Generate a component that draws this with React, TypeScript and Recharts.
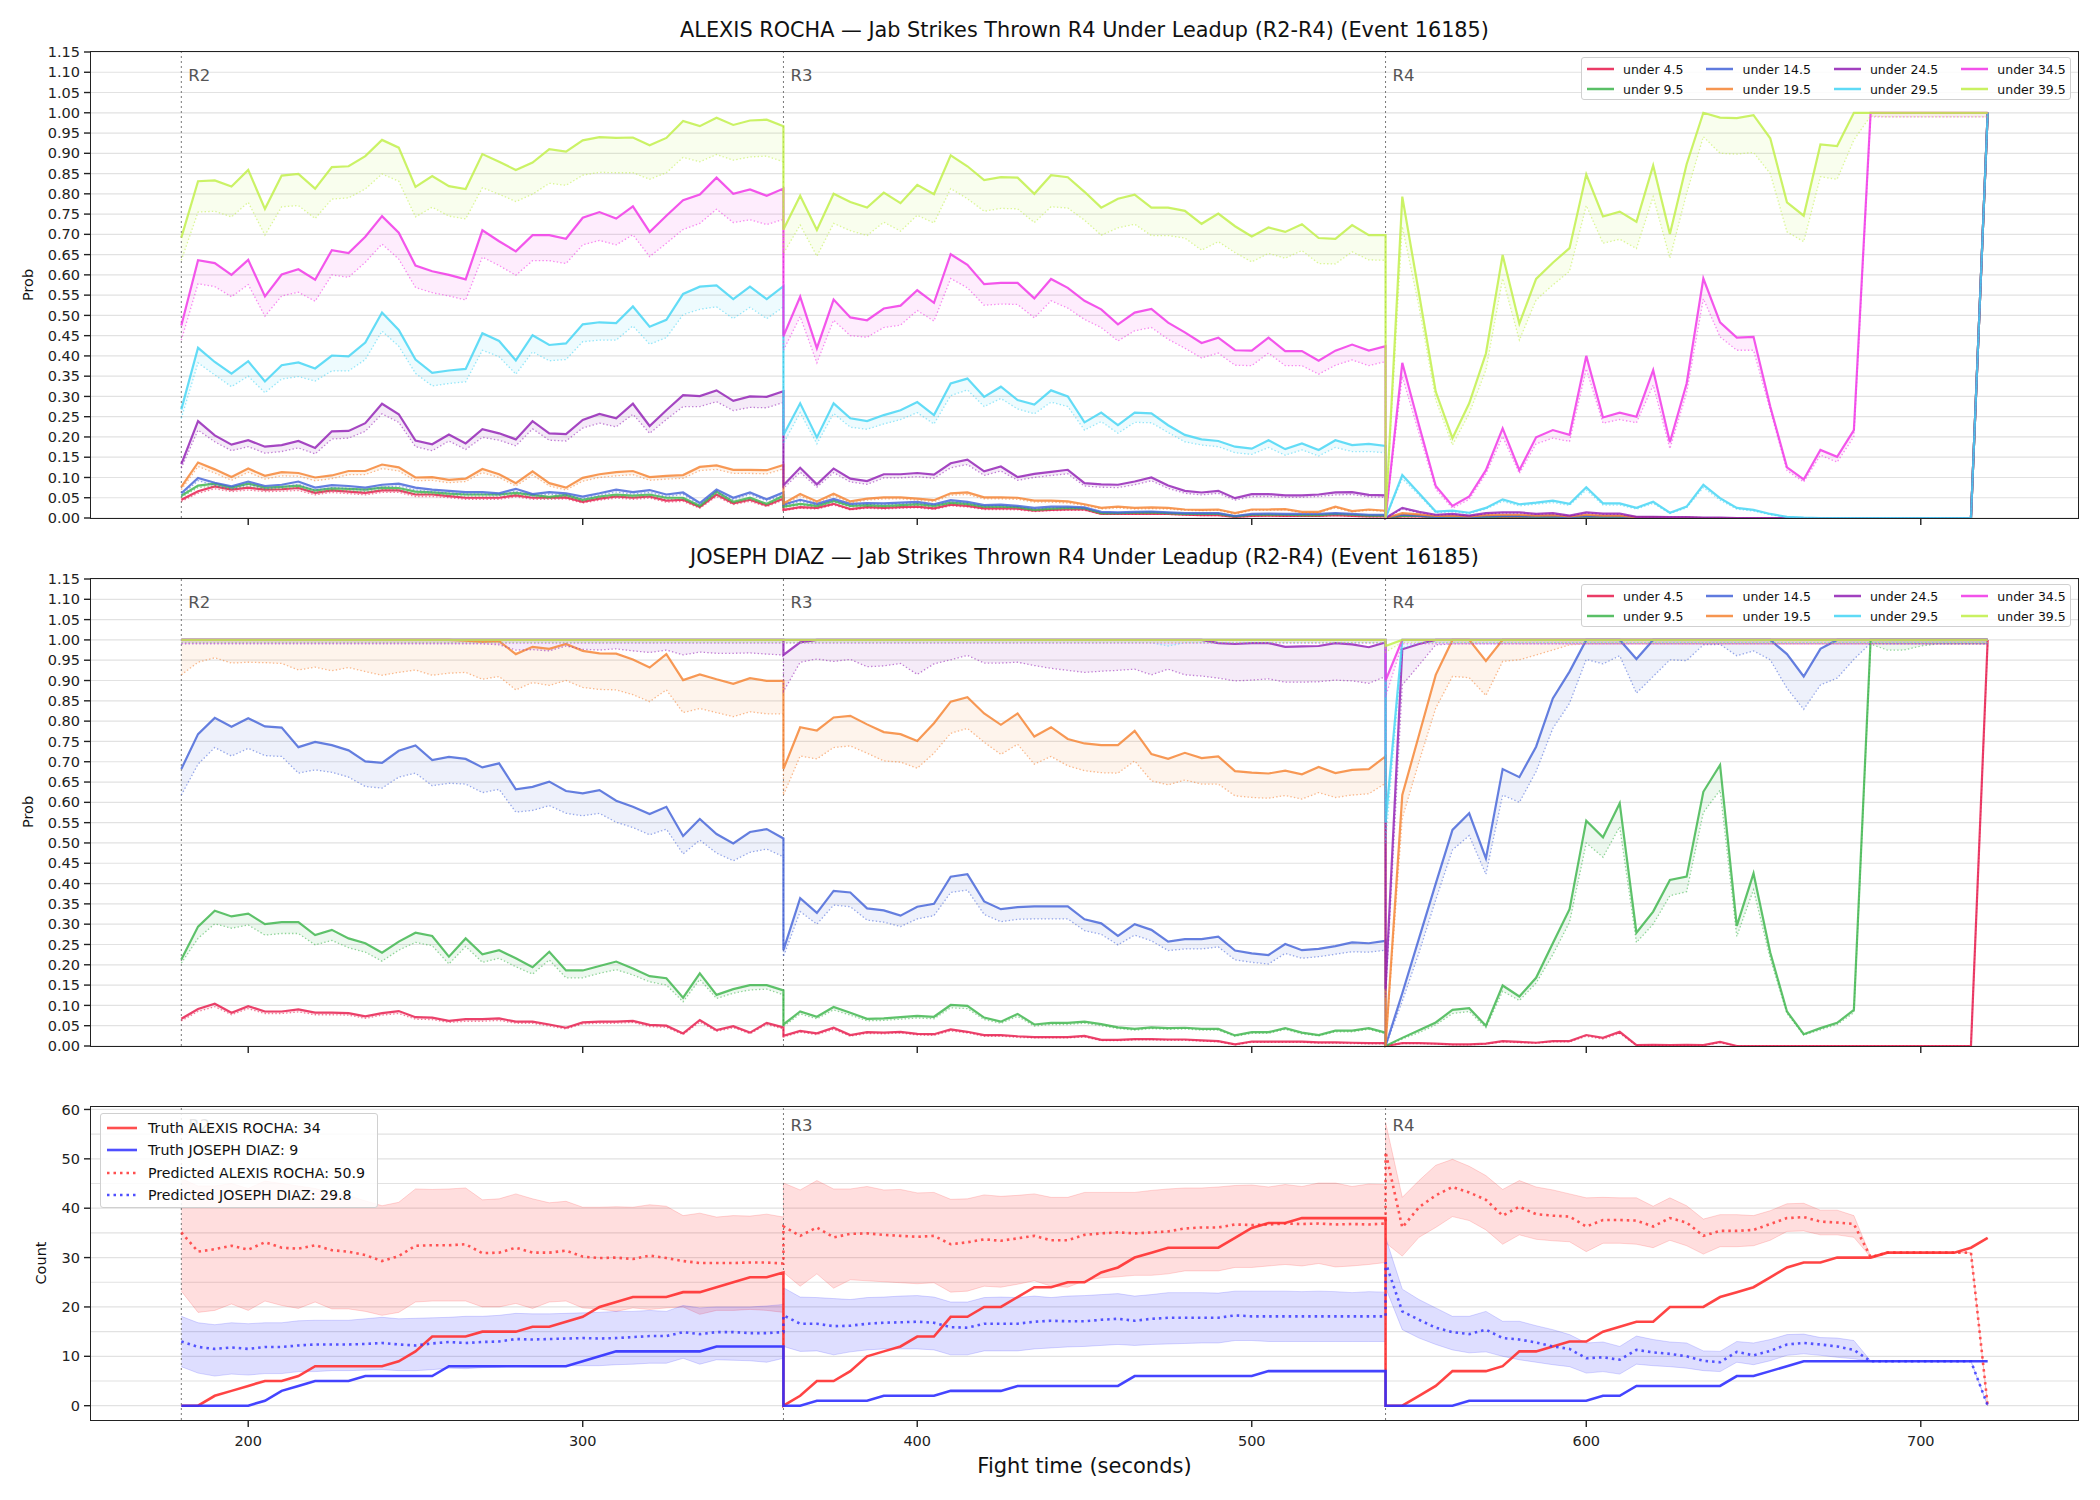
import React from 'react';
import { ComposedChart, Line, Area, XAxis, YAxis, CartesianGrid, ReferenceLine } from 'recharts';

const FONT = '"DejaVu Sans", Verdana, sans-serif';

// sampling: every 5 s inside a round, round start repeated so resets draw as vertical drops
const ROUND_STARTS = [180, 360, 540];
const ROUND_NAMES = ['R2', 'R3', 'R4'];
const STEP = 5;
const STEPS_PER_ROUND = 36;

const X_TICKS = [200, 300, 400, 500, 600, 700];
const PROB_TICKS = [0, 0.05, 0.1, 0.15, 0.2, 0.25, 0.3, 0.35, 0.4, 0.45, 0.5, 0.55, 0.6, 0.65, 0.7, 0.75, 0.8, 0.85, 0.9, 0.95, 1.0, 1.05, 1.1, 1.15];
const COUNT_TICKS = [0, 10, 20, 30, 40, 50, 60];
const COUNT_GRID = [0, 5, 10, 15, 20, 25, 30, 35, 40, 45, 50, 55, 60];

const THRESHOLDS = ['under 4.5', 'under 9.5', 'under 14.5', 'under 19.5', 'under 24.5', 'under 29.5', 'under 34.5', 'under 39.5'];
const COLORS = ['#e6194b', '#3cb44b', '#4363d8', '#f58231', '#911eb4', '#42d4f4', '#f032e6', '#bfef45'];

// ---------- ALEXIS ROCHA: P(final jabs under line), solid = model, dotted = lower band ----------
const rocha45 = [
  0.045,0.066,0.078,0.070,0.075,0.070,0.071,0.074,0.062,0.068,0.065,0.062,0.068,0.068,0.058,0.058,0.054,0.050,0.050,0.050,0.056,0.050,0.050,0.051,0.040,0.048,0.053,0.050,0.053,0.043,0.045,0.027,0.058,0.036,0.045,0.031,0.048,
  0.020,0.027,0.025,0.035,0.022,0.027,0.025,0.027,0.028,0.024,0.033,0.030,0.024,0.024,0.023,0.018,0.020,0.021,0.021,0.010,0.010,0.010,0.011,0.010,0.008,0.007,0.007,0.003,0.005,0.006,0.005,0.005,0.005,0.007,0.005,0.004,0.004,
  0,0.004,0.004,0.002,0.002,0.001,0.002,0.003,0.003,0.002,0.002,0.001,0.003,0.002,0.002,0.001,0.001,0,0,0,0,0,0,0,0,0,0,0,0,0,0,0,0,0,0,0,1.0,
];
const rocha45Lo = [
  0.041,0.061,0.072,0.065,0.069,0.065,0.066,0.068,0.057,0.063,0.060,0.057,0.063,0.063,0.053,0.053,0.050,0.046,0.046,0.046,0.052,0.046,0.046,0.047,0.037,0.044,0.049,0.046,0.049,0.039,0.041,0.024,0.053,0.033,0.041,0.028,0.044,
  0.018,0.024,0.022,0.032,0.020,0.024,0.022,0.024,0.025,0.021,0.030,0.027,0.021,0.021,0.020,0.016,0.018,0.019,0.019,0.009,0.009,0.009,0.010,0.009,0.007,0.006,0.006,0.002,0.004,0.005,0.004,0.004,0.004,0.006,0.004,0.003,0.003,
  0,0.003,0.003,0.001,0.001,0.001,0.001,0.002,0.002,0.001,0.001,0.001,0.002,0.001,0.001,0,0,0,0,0,0,0,0,0,0,0,0,0,0,0,0,0,0,0,0,0,0.99,
];
const rocha95 = [
  0.055,0.080,0.085,0.075,0.085,0.075,0.077,0.080,0.068,0.073,0.072,0.070,0.075,0.074,0.065,0.063,0.060,0.058,0.058,0.058,0.062,0.057,0.052,0.057,0.045,0.053,0.058,0.055,0.058,0.050,0.050,0.030,0.065,0.040,0.050,0.035,0.055,
  0.028,0.035,0.030,0.042,0.030,0.032,0.030,0.032,0.034,0.030,0.038,0.035,0.028,0.028,0.027,0.020,0.023,0.025,0.024,0.012,0.012,0.013,0.014,0.012,0.010,0.010,0.010,0.004,0.008,0.008,0.008,0.007,0.007,0.010,0.008,0.006,0.006,
  0,0.006,0.005,0.002,0.003,0.002,0.003,0.004,0.004,0.003,0.003,0.002,0.004,0.003,0.003,0.001,0.001,0,0,0,0,0,0,0,0,0,0,0,0,0,0,0,0,0,0,0,1.0,
];
const rocha95Lo = [
  0.051,0.075,0.079,0.070,0.079,0.070,0.072,0.075,0.063,0.068,0.067,0.065,0.070,0.069,0.060,0.059,0.056,0.054,0.054,0.054,0.058,0.053,0.048,0.053,0.042,0.049,0.054,0.051,0.054,0.046,0.046,0.027,0.060,0.037,0.046,0.032,0.051,
  0.026,0.032,0.027,0.039,0.027,0.029,0.027,0.029,0.031,0.027,0.035,0.032,0.026,0.026,0.025,0.018,0.021,0.023,0.022,0.011,0.011,0.012,0.013,0.011,0.009,0.009,0.009,0.003,0.007,0.007,0.007,0.006,0.006,0.009,0.007,0.005,0.005,
  0,0.005,0.004,0.002,0.002,0.001,0.002,0.003,0.003,0.002,0.002,0.001,0.003,0.002,0.002,0.001,0.001,0,0,0,0,0,0,0,0,0,0,0,0,0,0,0,0,0,0,0,0.99,
];
const rocha145 = [
  0.061,0.099,0.087,0.078,0.090,0.079,0.082,0.090,0.075,0.081,0.079,0.075,0.082,0.085,0.075,0.070,0.067,0.064,0.064,0.061,0.072,0.059,0.064,0.061,0.053,0.061,0.070,0.064,0.069,0.058,0.063,0.037,0.070,0.050,0.063,0.046,0.063,
  0.033,0.045,0.035,0.047,0.035,0.037,0.036,0.038,0.040,0.034,0.044,0.040,0.032,0.033,0.030,0.025,0.028,0.028,0.026,0.015,0.014,0.015,0.016,0.014,0.012,0.012,0.012,0.005,0.010,0.011,0.010,0.010,0.010,0.012,0.010,0.008,0.008,
  0,0.008,0.006,0.003,0.004,0.002,0.004,0.005,0.005,0.004,0.004,0.002,0.005,0.004,0.004,0.001,0.001,0,0,0,0,0,0,0,0,0,0,0,0,0,0,0,0,0,0,0,1.0,
];
const rocha145Lo = [
  0.056,0.092,0.081,0.072,0.083,0.073,0.076,0.083,0.069,0.075,0.073,0.069,0.076,0.079,0.069,0.065,0.062,0.059,0.059,0.056,0.066,0.054,0.059,0.056,0.048,0.056,0.064,0.059,0.063,0.053,0.058,0.033,0.064,0.045,0.058,0.042,0.058,
  0.030,0.041,0.032,0.043,0.032,0.034,0.033,0.035,0.036,0.031,0.040,0.036,0.029,0.030,0.027,0.022,0.025,0.025,0.023,0.013,0.012,0.013,0.014,0.012,0.010,0.010,0.010,0.004,0.008,0.009,0.008,0.008,0.008,0.010,0.008,0.006,0.006,
  0,0.007,0.005,0.002,0.003,0.002,0.003,0.004,0.004,0.003,0.003,0.002,0.004,0.003,0.003,0.001,0.001,0,0,0,0,0,0,0,0,0,0,0,0,0,0,0,0,0,0,0,0.99,
];
const rocha195 = [
  0.077,0.137,0.120,0.101,0.122,0.104,0.113,0.111,0.100,0.105,0.116,0.116,0.132,0.125,0.100,0.101,0.094,0.097,0.121,0.108,0.086,0.115,0.086,0.075,0.099,0.108,0.113,0.116,0.101,0.104,0.106,0.126,0.130,0.119,0.119,0.118,0.131,
  0.036,0.059,0.041,0.060,0.041,0.048,0.051,0.051,0.048,0.044,0.061,0.063,0.051,0.051,0.050,0.043,0.043,0.041,0.034,0.025,0.028,0.025,0.026,0.025,0.021,0.020,0.021,0.012,0.021,0.021,0.022,0.015,0.015,0.028,0.017,0.021,0.018,
  0,0.012,0.009,0.005,0.006,0.004,0.007,0.008,0.008,0.006,0.007,0.004,0.008,0.006,0.006,0.002,0.002,0.001,0.001,0,0,0,0,0,0,0,0,0,0,0,0,0,0,0,0,0,1.0,
];
const rocha195Lo = [
  0.070,0.127,0.111,0.093,0.113,0.096,0.104,0.103,0.092,0.097,0.107,0.107,0.122,0.116,0.092,0.093,0.087,0.090,0.112,0.100,0.079,0.106,0.079,0.069,0.091,0.100,0.104,0.107,0.093,0.096,0.098,0.117,0.120,0.110,0.110,0.109,0.121,
  0.032,0.054,0.037,0.055,0.037,0.044,0.047,0.047,0.044,0.040,0.056,0.058,0.047,0.047,0.046,0.039,0.039,0.037,0.031,0.022,0.025,0.022,0.023,0.022,0.019,0.018,0.019,0.010,0.019,0.019,0.020,0.013,0.013,0.025,0.015,0.019,0.016,
  0,0.010,0.008,0.004,0.005,0.003,0.006,0.007,0.007,0.005,0.006,0.003,0.007,0.005,0.005,0.001,0.001,0.001,0.001,0,0,0,0,0,0,0,0,0,0,0,0,0,0,0,0,0,0.99,
];
const rocha245 = [
  0.133,0.239,0.204,0.181,0.192,0.176,0.180,0.190,0.173,0.214,0.215,0.234,0.282,0.256,0.191,0.182,0.206,0.184,0.219,0.209,0.194,0.239,0.209,0.207,0.242,0.257,0.246,0.282,0.227,0.266,0.303,0.301,0.315,0.289,0.300,0.299,0.313,
  0.081,0.124,0.083,0.122,0.097,0.091,0.108,0.108,0.111,0.107,0.135,0.144,0.115,0.127,0.101,0.109,0.114,0.119,0.086,0.083,0.082,0.090,0.100,0.080,0.067,0.063,0.067,0.049,0.059,0.059,0.056,0.056,0.058,0.063,0.064,0.057,0.056,
  0,0.025,0.015,0.008,0.010,0.006,0.012,0.014,0.014,0.010,0.012,0.006,0.014,0.011,0.011,0.003,0.003,0.002,0.002,0.001,0.001,0,0,0,0,0,0,0,0,0,0,0,0,0,0,0,1.0,
];
const rocha245Lo = [
  0.123,0.217,0.188,0.166,0.176,0.160,0.164,0.173,0.158,0.195,0.197,0.214,0.257,0.236,0.176,0.166,0.190,0.169,0.199,0.192,0.178,0.220,0.192,0.190,0.222,0.234,0.225,0.256,0.209,0.243,0.275,0.275,0.287,0.265,0.273,0.272,0.285,
  0.073,0.113,0.076,0.112,0.089,0.083,0.099,0.099,0.102,0.098,0.124,0.132,0.105,0.116,0.093,0.100,0.105,0.109,0.079,0.076,0.075,0.082,0.092,0.073,0.061,0.057,0.061,0.044,0.053,0.053,0.051,0.051,0.053,0.057,0.058,0.052,0.051,
  0,0.022,0.013,0.007,0.009,0.005,0.010,0.012,0.012,0.009,0.010,0.005,0.012,0.009,0.009,0.002,0.002,0.002,0.002,0.001,0.001,0,0,0,0,0,0,0,0,0,0,0,0,0,0,0,0.99,
];
const rocha295 = [
  0.268,0.420,0.385,0.356,0.387,0.337,0.377,0.384,0.369,0.401,0.399,0.433,0.507,0.464,0.391,0.358,0.364,0.368,0.456,0.437,0.389,0.451,0.427,0.431,0.478,0.483,0.481,0.522,0.472,0.489,0.553,0.571,0.574,0.540,0.571,0.540,0.572,
  0.205,0.283,0.199,0.283,0.246,0.239,0.254,0.266,0.286,0.254,0.332,0.344,0.299,0.324,0.291,0.280,0.315,0.300,0.236,0.260,0.229,0.260,0.258,0.229,0.205,0.194,0.190,0.176,0.171,0.192,0.170,0.184,0.168,0.192,0.180,0.183,0.178,
  0,0.106,0.061,0.016,0.018,0.013,0.025,0.046,0.034,0.038,0.043,0.035,0.076,0.036,0.036,0.025,0.040,0.013,0.028,0.082,0.049,0.025,0.020,0.010,0.003,0.001,0,0,0,0,0,0,0,0,0,0,1.0,
];
const rocha295Lo = [
  0.246,0.383,0.353,0.324,0.350,0.309,0.343,0.349,0.338,0.363,0.363,0.391,0.461,0.424,0.357,0.326,0.332,0.336,0.414,0.398,0.355,0.410,0.388,0.391,0.435,0.439,0.439,0.474,0.429,0.445,0.502,0.515,0.521,0.492,0.520,0.492,0.521,
  0.184,0.260,0.183,0.258,0.224,0.219,0.232,0.243,0.260,0.232,0.302,0.316,0.275,0.295,0.269,0.257,0.286,0.275,0.217,0.238,0.209,0.236,0.235,0.211,0.188,0.180,0.176,0.161,0.157,0.174,0.155,0.168,0.153,0.174,0.164,0.164,0.161,
  0,0.097,0.056,0.013,0.015,0.011,0.022,0.041,0.030,0.034,0.038,0.031,0.069,0.032,0.032,0.022,0.036,0.011,0.025,0.075,0.044,0.022,0.017,0.008,0.002,0.001,0,0,0,0,0,0,0,0,0,0,0.99,
];
const rocha345 = [
  0.475,0.636,0.629,0.600,0.637,0.547,0.601,0.614,0.588,0.661,0.654,0.694,0.745,0.704,0.623,0.609,0.600,0.589,0.710,0.683,0.658,0.698,0.698,0.689,0.741,0.755,0.739,0.769,0.706,0.746,0.784,0.798,0.840,0.800,0.811,0.795,0.813,
  0.449,0.546,0.419,0.539,0.495,0.488,0.517,0.524,0.562,0.531,0.651,0.625,0.577,0.580,0.580,0.542,0.590,0.568,0.536,0.515,0.478,0.507,0.516,0.482,0.458,0.432,0.445,0.414,0.413,0.445,0.412,0.412,0.388,0.413,0.428,0.413,0.424,
  0,0.383,0.229,0.079,0.030,0.053,0.118,0.221,0.118,0.199,0.217,0.205,0.400,0.248,0.260,0.250,0.365,0.187,0.332,0.591,0.483,0.445,0.447,0.275,0.125,0.095,0.168,0.151,0.217,1.0,1.0,1.0,1.0,1.0,1.0,1.0,1.0,
];
const rocha345Lo = [
  0.439,0.578,0.571,0.546,0.576,0.498,0.548,0.557,0.535,0.600,0.594,0.631,0.676,0.639,0.569,0.556,0.548,0.538,0.644,0.623,0.599,0.635,0.635,0.628,0.674,0.685,0.674,0.699,0.645,0.678,0.712,0.727,0.762,0.729,0.736,0.724,0.737,
  0.414,0.497,0.383,0.488,0.450,0.446,0.470,0.476,0.512,0.486,0.591,0.568,0.525,0.528,0.527,0.494,0.536,0.518,0.490,0.470,0.437,0.462,0.470,0.441,0.419,0.395,0.407,0.377,0.376,0.407,0.376,0.376,0.355,0.377,0.390,0.376,0.386,
  0,0.349,0.209,0.071,0.024,0.046,0.109,0.201,0.110,0.183,0.197,0.189,0.368,0.234,0.243,0.235,0.328,0.171,0.309,0.541,0.447,0.414,0.414,0.266,0.117,0.089,0.155,0.138,0.201,0.99,0.99,0.99,0.99,0.99,0.99,0.99,0.99,
];
const rocha395 = [
  0.692,0.831,0.833,0.818,0.859,0.763,0.845,0.849,0.813,0.866,0.868,0.893,0.933,0.914,0.817,0.844,0.819,0.812,0.898,0.879,0.859,0.877,0.910,0.904,0.932,0.940,0.938,0.939,0.920,0.938,0.980,0.967,0.988,0.970,0.981,0.983,0.967,
  0.712,0.795,0.711,0.800,0.780,0.766,0.803,0.777,0.822,0.799,0.895,0.868,0.834,0.841,0.840,0.800,0.846,0.841,0.805,0.766,0.788,0.798,0.766,0.766,0.758,0.726,0.751,0.720,0.695,0.717,0.706,0.725,0.691,0.689,0.723,0.698,0.698,
  0,0.793,0.554,0.312,0.197,0.283,0.406,0.649,0.480,0.590,0.630,0.666,0.848,0.744,0.756,0.731,0.870,0.701,0.873,1.0,0.988,0.987,0.994,0.937,0.779,0.746,0.922,0.918,1.0,1.0,1.0,1.0,1.0,1.0,1.0,1.0,1.0,
];
const rocha395Lo = [
  0.636,0.755,0.757,0.743,0.779,0.698,0.768,0.771,0.739,0.787,0.790,0.812,0.849,0.831,0.743,0.767,0.745,0.738,0.815,0.799,0.781,0.799,0.826,0.821,0.846,0.853,0.852,0.852,0.836,0.852,0.890,0.879,0.897,0.883,0.891,0.893,0.879,
  0.653,0.723,0.646,0.727,0.709,0.697,0.730,0.708,0.747,0.728,0.813,0.788,0.757,0.764,0.763,0.729,0.768,0.765,0.735,0.698,0.716,0.725,0.697,0.697,0.691,0.661,0.682,0.655,0.632,0.653,0.641,0.660,0.628,0.627,0.657,0.637,0.636,
  0,0.719,0.521,0.291,0.180,0.258,0.365,0.591,0.439,0.538,0.575,0.609,0.771,0.678,0.688,0.665,0.793,0.641,0.801,0.941,0.900,0.898,0.902,0.850,0.706,0.682,0.842,0.836,0.933,0.992,0.99,0.99,0.99,0.99,0.99,0.99,0.99,
];

// ---------- JOSEPH DIAZ ----------
const diaz45 = [
  0.067,0.091,0.104,0.082,0.098,0.085,0.085,0.090,0.082,0.082,0.081,0.073,0.081,0.086,0.071,0.070,0.062,0.066,0.066,0.068,0.060,0.060,0.053,0.045,0.058,0.060,0.060,0.062,0.052,0.050,0.031,0.064,0.039,0.049,0.033,0.057,0.046,
  0.025,0.037,0.031,0.045,0.027,0.034,0.033,0.035,0.030,0.029,0.041,0.035,0.027,0.027,0.024,0.022,0.022,0.022,0.025,0.015,0.015,0.017,0.017,0.016,0.016,0.014,0.012,0.004,0.011,0.011,0.011,0.011,0.009,0.009,0.008,0.007,0.007,
  0,0.007,0.007,0.006,0.004,0.004,0.006,0.012,0.010,0.008,0.012,0.012,0.027,0.020,0.035,0.002,0.003,0.002,0.003,0.002,0.010,0,0,0,0,0,0,0,0,0,0,0,0,0,0,0,1.0,
];
const diaz45Lo = [
  0.062,0.085,0.097,0.077,0.092,0.080,0.080,0.084,0.077,0.077,0.076,0.068,0.076,0.080,0.066,0.065,0.058,0.061,0.061,0.063,0.056,0.056,0.049,0.042,0.054,0.056,0.056,0.058,0.048,0.046,0.028,0.059,0.036,0.045,0.030,0.053,0.042,
  0.022,0.034,0.028,0.041,0.024,0.031,0.030,0.032,0.027,0.026,0.037,0.032,0.024,0.024,0.021,0.020,0.020,0.020,0.022,0.013,0.013,0.015,0.015,0.014,0.014,0.012,0.010,0.003,0.009,0.009,0.009,0.009,0.007,0.007,0.006,0.005,0.005,
  0,0.006,0.006,0.005,0.003,0.003,0.005,0.010,0.008,0.007,0.010,0.010,0.024,0.017,0.031,0.001,0.002,0.001,0.002,0.001,0.008,0,0,0,0,0,0,0,0,0,0,0,0,0,0,0,0.99,
];
const diaz95 = [
  0.213,0.294,0.333,0.319,0.326,0.300,0.305,0.305,0.273,0.286,0.265,0.253,0.230,0.257,0.279,0.271,0.220,0.265,0.226,0.236,0.216,0.194,0.232,0.186,0.186,0.197,0.208,0.191,0.172,0.167,0.119,0.179,0.126,0.140,0.150,0.150,0.137,
  0.053,0.085,0.072,0.096,0.082,0.067,0.068,0.071,0.074,0.072,0.101,0.099,0.070,0.060,0.079,0.053,0.057,0.057,0.060,0.054,0.046,0.042,0.046,0.044,0.045,0.042,0.042,0.026,0.034,0.034,0.044,0.033,0.027,0.038,0.038,0.044,0.033,
  0,0.020,0.039,0.058,0.089,0.093,0.050,0.149,0.122,0.168,0.253,0.337,0.555,0.514,0.598,0.279,0.331,0.409,0.417,0.626,0.692,0.296,0.425,0.230,0.085,0.029,0.044,0.057,0.089,1.0,1.0,1.0,1.0,1.0,1.0,1.0,1.0,
];
const diaz95Lo = [
  0.204,0.265,0.301,0.290,0.298,0.273,0.277,0.277,0.249,0.260,0.242,0.231,0.209,0.236,0.255,0.247,0.202,0.245,0.206,0.216,0.195,0.177,0.212,0.168,0.168,0.179,0.188,0.175,0.158,0.150,0.109,0.164,0.117,0.130,0.138,0.140,0.126,
  0.048,0.079,0.067,0.089,0.076,0.062,0.063,0.066,0.069,0.067,0.094,0.092,0.065,0.056,0.073,0.049,0.053,0.053,0.056,0.050,0.043,0.039,0.043,0.041,0.042,0.039,0.039,0.024,0.031,0.031,0.041,0.030,0.025,0.035,0.035,0.041,0.030,
  0,0.017,0.033,0.052,0.080,0.085,0.045,0.135,0.112,0.155,0.225,0.305,0.500,0.465,0.540,0.255,0.300,0.370,0.380,0.575,0.630,0.270,0.385,0.215,0.080,0.027,0.040,0.053,0.082,0.99,0.975,0.975,0.985,0.99,0.99,0.99,0.99,
];
const diaz145 = [
  0.682,0.768,0.808,0.786,0.807,0.787,0.784,0.736,0.749,0.741,0.728,0.701,0.697,0.727,0.740,0.704,0.712,0.707,0.686,0.696,0.632,0.638,0.651,0.628,0.622,0.630,0.604,0.589,0.571,0.589,0.517,0.559,0.522,0.499,0.527,0.534,0.511,
  0.236,0.364,0.328,0.382,0.378,0.339,0.334,0.321,0.343,0.350,0.417,0.423,0.356,0.337,0.342,0.344,0.344,0.344,0.312,0.302,0.271,0.300,0.286,0.257,0.263,0.263,0.269,0.235,0.228,0.224,0.251,0.236,0.239,0.246,0.255,0.253,0.259,
  0,0.130,0.265,0.400,0.532,0.573,0.462,0.682,0.662,0.737,0.856,0.922,1.0,1.0,1.0,0.953,1.0,1.0,1.0,1.0,1.0,1.0,1.0,1.0,0.965,0.910,0.978,1.0,1.0,1.0,1.0,1.0,1.0,1.0,1.0,1.0,1.0,
];
const diaz145Lo = [
  0.618,0.694,0.735,0.714,0.733,0.715,0.713,0.672,0.680,0.674,0.662,0.639,0.635,0.662,0.672,0.641,0.647,0.645,0.624,0.632,0.576,0.580,0.592,0.573,0.567,0.573,0.551,0.538,0.520,0.534,0.473,0.507,0.475,0.456,0.477,0.485,0.466,
  0.220,0.331,0.300,0.347,0.343,0.310,0.305,0.294,0.313,0.321,0.378,0.384,0.324,0.306,0.312,0.313,0.313,0.313,0.284,0.275,0.249,0.273,0.259,0.235,0.239,0.239,0.244,0.212,0.206,0.202,0.228,0.216,0.220,0.226,0.232,0.231,0.236,
  0,0.110,0.230,0.360,0.483,0.518,0.423,0.618,0.600,0.676,0.782,0.844,0.952,0.941,0.961,0.869,0.910,0.951,0.949,0.988,0.989,0.961,0.973,0.951,0.881,0.829,0.889,0.906,0.952,0.992,0.99,0.99,0.99,0.99,0.99,0.99,0.99,
];
const diaz195 = [
  1,1,1,1,1,1,1,1,1,1,1,1,1,1,1,1,1,0.998,0.995,0.997,0.965,0.983,0.978,0.990,0.973,0.967,0.966,0.952,0.932,0.965,0.901,0.915,0.903,0.892,0.906,0.899,0.899,
  0.682,0.785,0.777,0.809,0.813,0.792,0.773,0.768,0.751,0.795,0.848,0.859,0.819,0.791,0.819,0.762,0.785,0.756,0.745,0.741,0.741,0.776,0.719,0.707,0.722,0.709,0.713,0.677,0.673,0.671,0.678,0.669,0.687,0.672,0.680,0.682,0.713,
  0,0.618,0.766,0.914,1,1,0.948,1,1,1,1,1,1,1,1,1,1,1,1,1,1,1,1,1,1,1,1,1,1,1,1,1,1,1,1,1,1,
];
const diaz195Lo = [
  0.914,0.945,0.956,0.943,0.945,0.944,0.942,0.926,0.933,0.924,0.932,0.922,0.913,0.920,0.926,0.913,0.918,0.920,0.903,0.910,0.877,0.895,0.888,0.900,0.883,0.878,0.877,0.865,0.848,0.877,0.821,0.831,0.821,0.811,0.823,0.818,0.818,
  0.618,0.714,0.707,0.735,0.739,0.721,0.702,0.699,0.684,0.721,0.770,0.782,0.748,0.718,0.743,0.694,0.713,0.690,0.678,0.673,0.672,0.702,0.653,0.643,0.655,0.645,0.645,0.616,0.612,0.610,0.617,0.608,0.624,0.612,0.618,0.621,0.647,
  0,0.561,0.700,0.832,0.910,0.907,0.863,0.947,0.951,0.963,0.975,0.988,0.99,0.99,0.99,0.99,0.99,0.99,0.99,0.99,0.99,0.99,0.99,0.99,0.99,0.99,0.99,0.99,0.99,0.99,0.99,0.99,0.99,0.99,0.99,0.99,0.99,
];
const diaz245 = [
  1,1,1,1,1,1,1,1,1,1,1,1,1,1,1,1,1,1,1,1,1,1,1,1,1,1,1,1,1,1,1,1,1,1,1,1,1,
  0.963,0.994,1,1,1,1,1,1,1,1,1,1,1,1,1,1,1,1,1,1,1,1,1,1,1,1,0.992,0.990,0.992,0.992,0.983,0.984,0.985,0.992,0.989,0.982,0.994,
  0.14,0.977,0.99,1,1,1,1,1,1,1,1,1,1,1,1,1,1,1,1,1,1,1,1,1,1,1,1,1,1,1,1,1,1,1,1,1,1,
];
const diaz245Lo = [
  0.99,0.99,0.99,0.99,0.99,0.99,0.99,0.99,0.99,0.99,0.99,0.99,0.99,0.99,0.99,0.99,0.99,0.99,0.99,0.988,0.975,0.976,0.973,0.985,0.977,0.975,0.978,0.973,0.969,0.975,0.963,0.970,0.967,0.967,0.968,0.965,0.963,
  0.873,0.945,0.953,0.947,0.952,0.934,0.936,0.942,0.915,0.941,0.951,0.962,0.943,0.943,0.945,0.937,0.930,0.925,0.920,0.923,0.925,0.928,0.914,0.928,0.914,0.911,0.906,0.899,0.901,0.904,0.896,0.896,0.897,0.901,0.899,0.893,0.910,
  0.12,0.889,0.938,0.988,0.99,0.99,0.99,0.99,0.99,0.99,0.99,0.99,0.99,0.99,0.99,0.99,0.99,0.99,0.99,0.99,0.99,0.99,0.99,0.99,0.99,0.99,0.99,0.99,0.99,0.99,0.99,0.99,0.99,0.99,0.99,0.99,0.99,
];
const diaz295 = [
  1,1,1,1,1,1,1,1,1,1,1,1,1,1,1,1,1,1,1,1,1,1,1,1,1,1,1,1,1,1,1,1,1,1,1,1,1,
  1,1,1,1,1,1,1,1,1,1,1,1,1,1,1,1,1,1,1,1,1,1,1,1,1,1,1,1,1,1,1,1,1,1,1,1,1,
  0.55,1,1,1,1,1,1,1,1,1,1,1,1,1,1,1,1,1,1,1,1,1,1,1,1,1,1,1,1,1,1,1,1,1,1,1,1,
];
const diaz295Lo = [
  0.993,0.993,0.993,0.993,0.993,0.993,0.993,0.993,0.993,0.993,0.993,0.993,0.993,0.993,0.993,0.993,0.993,0.993,0.993,0.993,0.993,0.993,0.993,0.993,0.993,0.993,0.993,0.993,0.993,0.993,0.993,0.993,0.993,0.993,0.993,0.993,0.993,
  0.993,0.993,0.993,0.993,0.993,0.993,0.993,0.993,0.993,0.993,0.993,0.993,0.993,0.993,0.993,0.993,0.993,0.993,0.993,0.993,0.993,0.993,0.993,0.985,0.993,0.993,0.993,0.993,0.993,0.993,0.993,0.993,0.993,0.993,0.993,0.993,0.993,
  0.50,0.98,0.993,0.993,0.993,0.993,0.993,0.993,0.993,0.993,0.993,0.993,0.993,0.993,0.993,0.993,0.993,0.993,0.993,0.993,0.993,0.993,0.993,0.993,0.993,0.993,0.993,0.993,0.993,0.993,0.993,0.993,0.993,0.993,0.993,0.993,0.993,
];
const diaz345 = [
  1,1,1,1,1,1,1,1,1,1,1,1,1,1,1,1,1,1,1,1,1,1,1,1,1,1,1,1,1,1,1,1,1,1,1,1,1,
  1,1,1,1,1,1,1,1,1,1,1,1,1,1,1,1,1,1,1,1,1,1,1,1,1,1,1,1,1,1,1,1,1,1,1,1,1,
  0.90,1,1,1,1,1,1,1,1,1,1,1,1,1,1,1,1,1,1,1,1,1,1,1,1,1,1,1,1,1,1,1,1,1,1,1,1,
];
const diaz345Lo = [
  0.992,0.992,0.992,0.992,0.992,0.992,0.992,0.992,0.992,0.992,0.992,0.992,0.992,0.992,0.992,0.992,0.992,0.992,0.992,0.992,0.992,0.992,0.992,0.992,0.992,0.992,0.992,0.992,0.992,0.992,0.992,0.992,0.992,0.992,0.992,0.992,0.992,
  0.992,0.992,0.992,0.992,0.992,0.992,0.992,0.992,0.992,0.992,0.992,0.992,0.992,0.992,0.992,0.992,0.992,0.992,0.992,0.992,0.992,0.992,0.992,0.992,0.992,0.992,0.992,0.992,0.992,0.992,0.992,0.992,0.992,0.992,0.992,0.992,0.992,
  0.86,0.99,0.99,0.99,0.99,0.99,0.99,0.99,0.99,0.99,0.99,0.99,0.99,0.99,0.99,0.99,0.99,0.99,0.99,0.99,0.99,0.99,0.99,0.99,0.99,0.99,0.99,0.99,0.99,0.99,0.99,0.99,0.99,0.99,0.99,0.99,0.99,
];
const diaz395 = [
  1,1,1,1,1,1,1,1,1,1,1,1,1,1,1,1,1,1,1,1,1,1,1,1,1,1,1,1,1,1,1,1,1,1,1,1,1,
  1,1,1,1,1,1,1,1,1,1,1,1,1,1,1,1,1,1,1,1,1,1,1,1,1,1,1,1,1,1,1,1,1,1,1,1,1,
  0.985,1,1,1,1,1,1,1,1,1,1,1,1,1,1,1,1,1,1,1,1,1,1,1,1,1,1,1,1,1,1,1,1,1,1,1,1,
];
const diaz395Lo = [
  0.994,0.994,0.994,0.994,0.994,0.994,0.994,0.994,0.994,0.994,0.994,0.994,0.994,0.994,0.994,0.994,0.994,0.994,0.994,0.994,0.994,0.994,0.994,0.994,0.994,0.994,0.994,0.994,0.994,0.994,0.994,0.994,0.994,0.994,0.994,0.994,0.994,
  0.994,0.994,0.994,0.994,0.994,0.994,0.994,0.994,0.994,0.994,0.994,0.994,0.994,0.994,0.994,0.994,0.994,0.994,0.994,0.994,0.994,0.994,0.994,0.994,0.994,0.994,0.994,0.994,0.994,0.994,0.994,0.994,0.994,0.994,0.994,0.994,0.994,
  0.97,0.994,0.994,0.994,0.994,0.994,0.994,0.994,0.994,0.994,0.994,0.994,0.994,0.994,0.994,0.994,0.994,0.994,0.994,0.994,0.994,0.994,0.994,0.994,0.994,0.994,0.994,0.994,0.994,0.994,0.994,0.994,0.994,0.994,0.994,0.994,0.994,
];

// ---------- counts ----------
const truthRocha = [
  0,0,2,3,4,5,5,6,8,8,8,8,8,9,11,14,14,14,15,15,15,16,16,17,18,20,21,22,22,22,23,23,24,25,26,26,27,
  0,2,5,5,7,10,11,12,14,14,18,18,20,20,22,24,24,25,25,27,28,30,31,32,32,32,32,34,36,37,37,38,38,38,38,38,38,
  0,0,2,4,7,7,7,8,11,11,12,13,13,15,16,17,17,20,20,20,22,23,24,26,28,29,29,30,30,30,31,31,31,31,31,32,34,
];
const truthDiaz = [
  0,0,0,0,0,1,3,4,5,5,5,6,6,6,6,6,8,8,8,8,8,8,8,8,9,10,11,11,11,11,11,11,12,12,12,12,12,
  0,0,1,1,1,1,2,2,2,2,3,3,3,3,4,4,4,4,4,4,4,6,6,6,6,6,6,6,6,7,7,7,7,7,7,7,7,
  0,0,0,0,0,1,1,1,1,1,1,1,1,2,2,4,4,4,4,4,4,6,6,7,8,9,9,9,9,9,9,9,9,9,9,9,9,
];
const predRocha = [
  35.1,31.2,31.7,32.4,31.6,33.1,32.0,31.8,32.5,31.5,31.2,30.5,29.3,30.3,32.4,32.5,32.5,32.7,30.9,31.0,32.0,31.0,31.0,31.4,30.2,29.9,30.0,29.7,30.4,29.9,29.3,28.9,28.9,28.9,29.0,29.0,28.8,
  36.3,34.4,36.1,34.1,34.8,34.9,34.6,34.4,34.2,34.4,32.7,33.1,33.7,33.4,33.9,34.4,33.5,33.5,34.6,34.9,35.1,34.9,35.1,35.3,35.9,36.1,36.1,36.7,36.6,36.7,36.9,36.8,36.9,36.7,36.8,36.7,36.9,
  51.4,36.1,40.2,42.6,44.3,43.2,41.7,38.5,40.3,38.8,38.5,38.3,36.3,37.6,37.6,37.5,36.3,38.0,37.1,34.4,35.4,35.4,35.6,36.8,38.0,38.2,37.3,37.1,36.8,30.1,31,31,31,31,31,31,0,
];
const predRochaHi = [
  46,44.5,44.5,45,44,45.5,45,44.5,44,43,42.5,41.5,40.5,41.2,43.9,43.8,43.9,44.1,41.7,41.9,42.9,41.9,41.1,41.4,40.2,40.2,40.3,40.2,40.7,40.4,38.5,39.0,38.2,38.5,38.4,38.8,38.2,
  45.1,43.7,45.6,43.9,43.9,44.4,43.7,43.8,43.1,43.2,41.8,41.9,42.7,42.4,42.6,42.9,42.2,42.2,43.2,43.2,43.2,43.2,43.6,43.9,44.1,44.1,44.3,44.6,44.7,44.3,44.8,44.4,45.1,45.1,44.4,44.9,44.8,
  57.4,42.2,45.6,48.7,49.9,48.5,46.6,43.8,45.6,44.3,43.7,42.9,42.1,42.2,42.1,42.1,40.4,42.1,40.5,37.8,38.7,38.7,38.5,39.5,40.9,41.0,39.6,39.6,38.5,30.3,31,31,31,31,31,31,0,
];
const predRochaLo = [
  23.2,18.9,19.3,20.6,19.3,21.2,20.3,19.7,21.0,19.6,19.6,19.1,18.3,18.9,21.0,21.2,21.2,21.2,20.0,20.0,20.7,19.7,21.0,21.2,19.8,19.6,19.1,19.8,19.5,19.8,20.0,18.5,19.3,19.3,19.5,19.3,18.9,
  27.0,24.2,26.7,23.8,25.5,25.3,25.1,24.9,24.7,24.9,23.0,23.2,24.2,24.0,24.6,25.3,24.2,24.0,25.3,25.9,26.1,26.4,26.4,26.7,27.3,27.3,27.3,28.0,28.0,28.3,28.6,28.3,28.8,28.1,28.3,28.6,29.0,
  33,30.3,34.1,36.1,38.3,37.5,35.6,32.7,34.6,33.7,33.4,33.2,31.2,32.9,32.9,32.7,32.0,33.5,32.4,30.7,32.2,32.2,32.4,33.5,35.3,35.4,34.6,34.6,34.1,30.1,31,31,31,31,31,31,0,
];
const predDiaz = [
  13.0,11.9,11.5,11.8,11.5,11.9,11.9,12.2,12.4,12.4,12.4,12.5,12.7,12.4,12.2,12.6,12.9,12.7,12.9,13.0,13.5,13.4,13.5,13.6,13.7,13.6,13.7,13.9,14.1,14.1,14.9,14.5,14.9,14.9,14.7,14.7,14.9,
  18.3,16.6,16.6,16.1,16.2,16.6,16.8,16.9,17.0,16.8,15.9,15.8,16.6,16.6,16.6,17.0,17.2,17.1,17.1,17.4,17.6,17.2,17.6,17.8,17.8,17.8,17.8,18.3,18.1,18.1,18.1,18.1,18.1,18.1,18.1,18.1,18.1,
  29,19.1,17.4,15.8,14.9,14.5,15.4,13.7,13.4,12.8,12.0,11.5,9.6,9.8,9.3,11.3,10.8,10.5,10.0,9.1,8.8,10.9,10.2,11.1,12.4,12.7,12.4,12.0,11.3,9.0,9,9,9,9,9,9,0,
];
const predDiazHi = [
  18.1,16.8,16.4,16.8,16.6,16.8,16.8,17.2,17.3,17.3,17.3,17.6,17.9,17.6,17.7,17.8,17.9,18.1,18.1,18.3,18.7,18.6,18.6,18.7,18.8,18.9,19.1,19.1,19.3,19.1,20.3,19.8,20.0,20.0,20.0,20.2,20.5,
  23.9,22.0,21.9,21.7,21.5,21.9,22.0,22.2,22.3,22.0,21.0,21.0,21.9,22.0,21.9,22.2,21.9,22.2,22.3,22.5,22.7,22.2,22.5,22.9,22.9,22.9,22.8,23.2,23.2,23.2,23.2,23.1,23.2,23.1,22.9,23.1,23.0,
  34.1,23.6,21.5,19.8,18.1,18.1,19.1,17.1,17.1,16.2,15.4,14.4,12.7,12.9,12.0,14.1,13.4,12.9,12.7,11.1,11.0,13.0,12.7,13.4,14.4,14.5,13.8,13.7,13.2,9.1,9,9,9,9,9,9,0,
];
const predDiazLo = [
  7.9,6.6,6.0,6.4,6.2,6.5,6.5,6.9,6.9,7.1,7.1,7.2,7.3,7.1,7.1,7.3,7.6,7.5,7.7,7.8,8.1,7.9,7.9,8.1,8.1,8.1,8.3,8.4,8.6,8.6,9.6,8.4,9.3,9.2,9.1,8.8,9.6,
  12.0,11.0,11.1,10.3,10.9,11.3,11.5,11.5,11.5,11.3,10.3,10.3,11.1,11.1,11.1,11.5,11.7,11.9,12.0,12.2,12.4,12.2,12.4,12.5,12.6,12.7,12.7,13.2,13.2,13.0,13.0,13.0,13.0,13.0,13.0,13.0,13.0,
  23.9,15.4,13.7,12.4,11.3,10.7,10.9,10.0,9.3,8.8,8.3,7.9,6.6,6.9,6.4,8.4,8.1,7.9,7.6,7.1,6.9,8.8,8.3,9.1,10.2,10.5,10.2,9.8,9.5,9.0,9,9,9,9,9,9,0,
];

const TIMES = ROUND_STARTS.flatMap((s) => Array.from({ length: STEPS_PER_ROUND + 1 }, (_, k) => s + k * STEP));

const buildProbRows = (solid: number[][], lower: number[][]) =>
  TIMES.map((t, i) => {
    const row: Record<string, any> = { t };
    solid.forEach((s, j) => {
      row[`s${j}`] = s[i];
      row[`lo${j}`] = lower[j][i];
      row[`band${j}`] = [lower[j][i], s[i]];
    });
    return row;
  });

const rochaRows = buildProbRows(
  [rocha45, rocha95, rocha145, rocha195, rocha245, rocha295, rocha345, rocha395],
  [rocha45Lo, rocha95Lo, rocha145Lo, rocha195Lo, rocha245Lo, rocha295Lo, rocha345Lo, rocha395Lo],
);
const diazRows = buildProbRows(
  [diaz45, diaz95, diaz145, diaz195, diaz245, diaz295, diaz345, diaz395],
  [diaz45Lo, diaz95Lo, diaz145Lo, diaz195Lo, diaz245Lo, diaz295Lo, diaz345Lo, diaz395Lo],
);
const countRows = TIMES.map((t, i) => ({
  t,
  truthR: truthRocha[i],
  truthD: truthDiaz[i],
  predR: predRocha[i],
  predD: predDiaz[i],
  bandR: [predRochaLo[i], predRochaHi[i]],
  bandD: [predDiazLo[i], predDiazHi[i]],
}));

const PLOT_LEFT = 91;
const PLOT_W = 1987;

const RoundTag = ({ viewBox, text, dy }: any) =>
  viewBox ? (
    <text x={viewBox.x + 7} y={viewBox.y + dy} fontSize={16.5} fill="#555" fontFamily={FONT}>
      {text}
    </text>
  ) : null;

const tickLine = { stroke: '#222', strokeWidth: 1.4 };
const tickText = { fontSize: 14.5, fill: '#222', fontFamily: FONT };

const Frame = ({ top, height }: { top: number; height: number }) => (
  <div
    style={{
      position: 'absolute', left: PLOT_LEFT - 1, top: top - 1, width: PLOT_W + 2, height: height + 2,
      border: '1.8px solid #222', boxSizing: 'border-box', pointerEvents: 'none',
    }}
  />
);

const ProbLegend = ({ top }: { top: number }) => (
  <div
    style={{
      position: 'absolute', left: 1581, top, width: 490, height: 43, boxSizing: 'border-box',
      border: '1px solid #d0d0d0', borderRadius: 3, background: 'rgba(255,255,255,0.85)',
      display: 'grid', gridAutoFlow: 'column', gridTemplateRows: '20px 20px', columnGap: 23,
      padding: '1px 5px', fontFamily: FONT, fontSize: 12.5, color: '#111',
    }}
  >
    {THRESHOLDS.map((name, j) => (
      <div key={name} style={{ display: 'flex', alignItems: 'center', whiteSpace: 'nowrap' }}>
        <svg width={27} height={6} style={{ marginRight: 9 }}>
          <line x1={0} y1={3} x2={27} y2={3} stroke={COLORS[j]} strokeOpacity={0.85} strokeWidth={2.5} />
        </svg>
        {name}
      </div>
    ))}
  </div>
);

const ProbPanel = ({ top, plotTop, axisH, title, rows }: any) => (
  <>
    <div
      style={{
        position: 'absolute', left: PLOT_LEFT, width: PLOT_W, top: top + plotTop - 34,
        textAlign: 'center', fontFamily: FONT, fontSize: 20.8, color: '#111', lineHeight: '25px',
      }}
    >
      {title}
    </div>
    <div
      style={{
        position: 'absolute', left: 28, top: top + plotTop + 233, transform: 'translate(-50%, -50%) rotate(-90deg)',
        fontFamily: FONT, fontSize: 14.5, color: '#111',
      }}
    >
      Prob
    </div>
    <div style={{ position: 'absolute', left: 0, top }}>
      <ComposedChart width={2100} height={530} data={rows} margin={{ top: plotTop, right: 22, bottom: 0, left: 31 }}>
        <CartesianGrid vertical={false} stroke="#e2e2e2" strokeWidth={1.2} />
        <XAxis
          dataKey="t" type="number" domain={[153, 747]} ticks={X_TICKS} allowDataOverflow height={axisH}
          axisLine={false} tickLine={tickLine} tickSize={7} tickFormatter={() => ''}
        />
        <YAxis
          type="number" domain={[0, 1.15]} ticks={PROB_TICKS} interval={0} width={60} axisLine={false}
          tickLine={tickLine} tickSize={7} tickMargin={4} tick={tickText} tickFormatter={(v: number) => v.toFixed(2)}
        />
        {ROUND_STARTS.map((s, i) => (
          <ReferenceLine key={s} x={s} stroke="#777" strokeDasharray="2 3" strokeWidth={1}
            label={<RoundTag text={ROUND_NAMES[i]} dy={29} />} />
        ))}
        {THRESHOLDS.flatMap((name, j) => [
          <Area key={`a${j}`} type="linear" dataKey={`band${j}`} stroke="none" fill={COLORS[j]} fillOpacity={0.09}
            isAnimationActive={false} activeDot={false} />,
          <Line key={`d${j}`} type="linear" dataKey={`lo${j}`} stroke={COLORS[j]} strokeOpacity={0.55} strokeWidth={1.3}
            strokeDasharray="1.4 2.2" dot={false} activeDot={false} isAnimationActive={false} />,
          <Line key={`s${j}`} type="linear" dataKey={`s${j}`} name={name} stroke={COLORS[j]} strokeOpacity={0.82}
            strokeWidth={2.2} dot={false} activeDot={false} isAnimationActive={false} />,
        ])}
      </ComposedChart>
    </div>
    <Frame top={top + plotTop} height={530 - plotTop - axisH} />
    <ProbLegend top={top + plotTop + 5} />
  </>
);

const COUNT_LEGEND = [
  { label: 'Truth ALEXIS ROCHA: 34', color: '#ff3030', dash: undefined },
  { label: 'Truth JOSEPH DIAZ: 9', color: '#3030ff', dash: undefined },
  { label: 'Predicted ALEXIS ROCHA: 50.9', color: '#ff3030', dash: '2.5 4' },
  { label: 'Predicted JOSEPH DIAZ: 29.8', color: '#3030ff', dash: '2.5 4' },
];

const CountPanel = () => (
  <>
    <div
      style={{
        position: 'absolute', left: 41, top: 1263, transform: 'translate(-50%, -50%) rotate(-90deg)',
        fontFamily: FONT, fontSize: 14.5, color: '#111',
      }}
    >
      Count
    </div>
    <div style={{ position: 'absolute', left: 0, top: 1060 }}>
      <ComposedChart width={2100} height={440} data={countRows} margin={{ top: 47, right: 22, bottom: 40, left: 31 }}>
        <CartesianGrid vertical={false} horizontalValues={COUNT_GRID} stroke="#e2e2e2" strokeWidth={1.2} />
        <XAxis
          dataKey="t" type="number" domain={[153, 747]} ticks={X_TICKS} allowDataOverflow height={40}
          axisLine={false} tickLine={tickLine} tickSize={7} tickMargin={9} tick={tickText}
        />
        <YAxis
          type="number" domain={[-2.9, 60.5]} ticks={COUNT_TICKS} interval={0} width={60} axisLine={false}
          tickLine={tickLine} tickSize={7} tickMargin={4} tick={tickText} allowDataOverflow
        />
        {ROUND_STARTS.map((s, i) => (
          <ReferenceLine key={s} x={s} stroke="#777" strokeDasharray="2 3" strokeWidth={1}
            label={<RoundTag text={ROUND_NAMES[i]} dy={24} />} />
        ))}
        <Area type="linear" dataKey="bandR" stroke="#ff0000" strokeOpacity={0.15} fill="#ff0000" fillOpacity={0.13}
          isAnimationActive={false} activeDot={false} />
        <Area type="linear" dataKey="bandD" stroke="#0000ff" strokeOpacity={0.15} fill="#0000ff" fillOpacity={0.13}
          isAnimationActive={false} activeDot={false} />
        <Line type="linear" dataKey="truthR" stroke="#ff3030" strokeOpacity={0.9} strokeWidth={2.6} dot={false}
          activeDot={false} isAnimationActive={false} />
        <Line type="linear" dataKey="truthD" stroke="#3030ff" strokeOpacity={0.9} strokeWidth={2.6} dot={false}
          activeDot={false} isAnimationActive={false} />
        <Line type="linear" dataKey="predR" stroke="#ff3030" strokeOpacity={0.8} strokeWidth={2.6} strokeDasharray="2.5 4"
          dot={false} activeDot={false} isAnimationActive={false} />
        <Line type="linear" dataKey="predD" stroke="#3030ff" strokeOpacity={0.8} strokeWidth={2.6} strokeDasharray="2.5 4"
          dot={false} activeDot={false} isAnimationActive={false} />
      </ComposedChart>
    </div>
    <Frame top={1107} height={313} />
    <div
      style={{
        position: 'absolute', left: 100, top: 1113, width: 278, height: 95, boxSizing: 'border-box',
        border: '1px solid #d0d0d0', borderRadius: 3, background: 'rgba(255,255,255,0.85)',
        padding: '3px 6px', fontFamily: FONT, fontSize: 14.2, color: '#111',
      }}
    >
      {COUNT_LEGEND.map((it) => (
        <div key={it.label} style={{ display: 'flex', alignItems: 'center', height: 22.3, whiteSpace: 'nowrap' }}>
          <svg width={30} height={6} style={{ marginRight: 11 }}>
            <line x1={0} y1={3} x2={30} y2={3} stroke={it.color} strokeOpacity={0.85} strokeWidth={2.6} strokeDasharray={it.dash} />
          </svg>
          {it.label}
        </div>
      ))}
    </div>
    <div
      style={{
        position: 'absolute', left: PLOT_LEFT, width: PLOT_W, top: 1453, textAlign: 'center',
        fontFamily: FONT, fontSize: 21, color: '#111', lineHeight: '26px',
      }}
    >
      Fight time (seconds)
    </div>
  </>
);

export default function App() {
  return (
    <div style={{ position: 'absolute', left: 0, top: 0, width: 2100, height: 1500, background: '#fff', overflow: 'hidden' }}>
      <ProbPanel top={0} plotTop={52} axisH={12}
        title="ALEXIS ROCHA — Jab Strikes Thrown R4 Under Leadup (R2-R4) (Event 16185)" rows={rochaRows} />
      <ProbPanel top={530} plotTop={49} axisH={14}
        title="JOSEPH DIAZ — Jab Strikes Thrown R4 Under Leadup (R2-R4) (Event 16185)" rows={diazRows} />
      <CountPanel />
    </div>
  );
}
